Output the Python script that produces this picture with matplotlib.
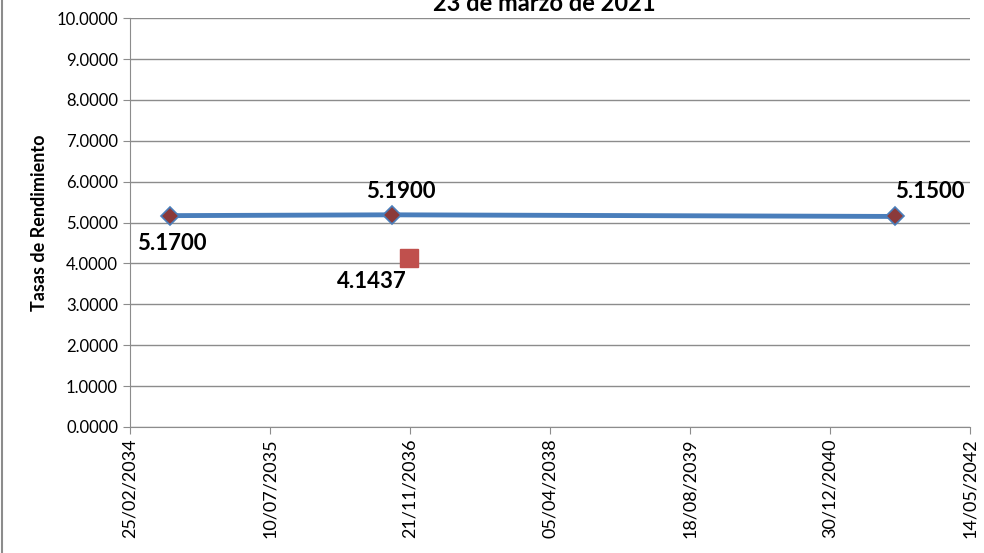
import numpy as np
import matplotlib.pyplot as plt
from datetime import datetime, timedelta

plt.rcParams['font.family'] = ['Lato', 'DejaVu Sans']

# curve points (maturity dates, yields)
curve_dates = ['2034-07-18', '2036-09-18', '2041-08-19']
curve_rates = [5.17, 5.19, 5.15]
# single reference point
ref_dates = ['2036-11-17']
ref_rates = [4.1437]

tick_start = datetime(2034, 2, 25)
tick_step_days = 500
n_ticks = 7

cd = [datetime.strptime(d, '%Y-%m-%d') for d in curve_dates]
rd = [datetime.strptime(d, '%Y-%m-%d') for d in ref_dates]

fig = plt.figure(figsize=(9.84, 5.53), dpi=100)
ax = fig.add_axes([0.132, 0.228, 0.854, 0.739])

ax.plot(cd, curve_rates, color='#4a7ebb', lw=3.5, marker='D', ms=9,
        mfc='#8b3a3a', mec='#4a7ebb', mew=1.2, zorder=3)
ax.plot(rd, ref_rates, ls='none', marker='s', ms=13, color='#c0504d', zorder=3)

lbl = dict(fontsize=16, fontweight='bold', ha='center', va='center',
           textcoords='offset points')
ax.annotate(f'{curve_rates[0]:.4f}', (cd[0], curve_rates[0]), xytext=(1, -20), **lbl)
ax.annotate(f'{curve_rates[1]:.4f}', (cd[1], curve_rates[1]), xytext=(6, 17), **lbl)
ax.annotate(f'{curve_rates[2]:.4f}', (cd[2], curve_rates[2]), xytext=(25, 18), **lbl)
ax.annotate(f'{ref_rates[0]:.4f}', (rd[0], ref_rates[0]), xytext=(-27, -17), **lbl)

ticks = [tick_start + timedelta(days=tick_step_days * i) for i in range(n_ticks)]
ax.set_xticks(ticks)
ax.set_xticklabels([t.strftime('%d/%m/%Y') for t in ticks], rotation=90, fontsize=13)
ax.set_xlim(ticks[0], ticks[-1])
ax.set_ylim(0, 10)
ax.set_yticks(np.arange(0, 11, 1))
ax.set_yticklabels([f'{v:.4f}' for v in range(11)], fontsize=12)
ax.yaxis.grid(True, color='#8c8c8c', lw=1)
ax.set_axisbelow(True)
for s in ['top', 'right']:
    ax.spines[s].set_visible(False)
for s in ['left', 'bottom']:
    ax.spines[s].set_color('#8c8c8c')
ax.tick_params(color='#8c8c8c', length=5)

ax.set_ylabel('Tasas de Rendimiento', fontsize=13, fontweight='bold', labelpad=6)
fig.text(0.553, 0.993, '23 de marzo de 2021', ha='center', va='center',
         fontsize=17, fontweight='bold')
fig.add_artist(plt.Line2D([0.002, 0.002], [0, 1], color='#8c8c8c', lw=1.5))

fig.savefig('out.png', dpi=100)
